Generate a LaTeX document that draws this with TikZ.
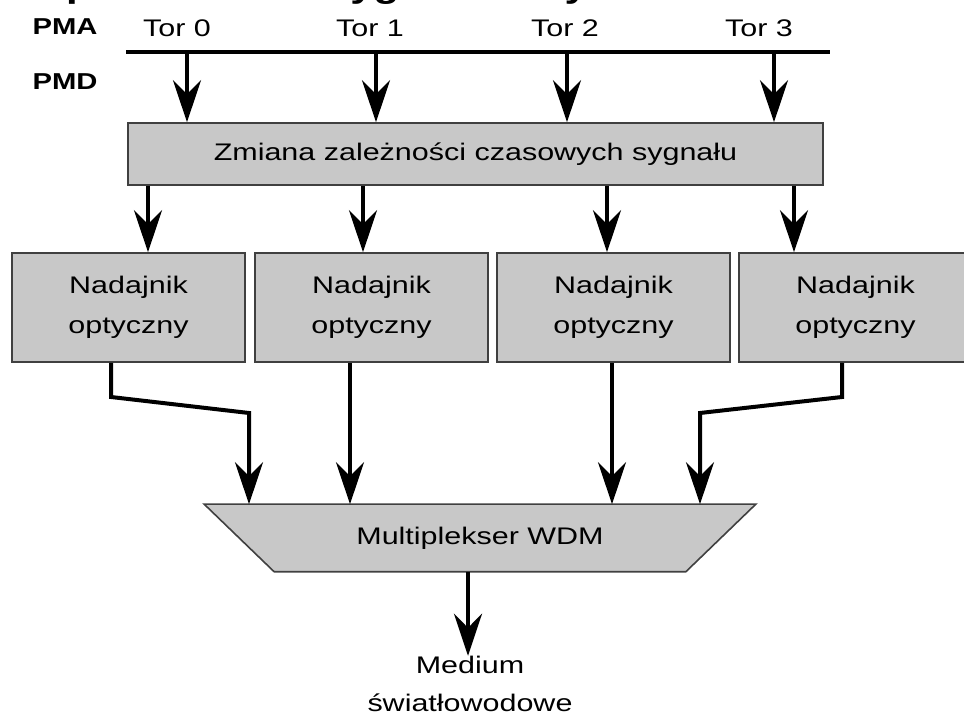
\documentclass[tikz,border=0pt]{standalone}
\usepackage{fontspec}
\setmainfont{Liberation Sans}[FakeStretch=1.27]
\usepackage{tikz}
\usetikzlibrary{shapes,arrows,arrows.meta,backgrounds,positioning,fit}
\definecolor{boxgray}{RGB}{200,200,200}

\begin{document}
\begin{tikzpicture}[x=0.5pt,y=-0.5pt]
			\tikzstyle{Box}		= [rectangle, draw=black!75, line width=0.8pt, fill=boxgray, inner sep=0pt, align=center, font=\fontsize{12}{20}\selectfont]
			\tikzstyle{Tx}		= [Box, minimum width=116.5pt, minimum height=54.5pt]
			\tikzstyle{Lane}	= [inner sep=0pt, font=\fontsize{12}{14}\selectfont]
			\tikzstyle{Layer}	= [inner sep=0pt, font=\fontsize{11.5}{13}\selectfont\bfseries]
			\tikzstyle{Wire}	= [line width=2pt, black]
			\tikzstyle{Arrow}	= [Wire, -{Stealth[length=21pt, width=14pt, inset=7pt]}]

			\useasboundingbox (0,0) rectangle (964,715);

			\node (title) at (-32,-2) [anchor=base west, inner sep=0pt, font=\fontsize{16.5}{18}\selectfont\bfseries] {Multipleksowanie sygnału w systemie 10GBASE-LX4};

			\node (pma) at (65,27) [Layer] {PMA};
			\node (pmd) at (65,82) [Layer] {PMD};
			\node (t0) at (177,28) [Lane] {Tor 0};
			\node (t1) at (370,28) [Lane] {Tor 1};
			\node (t2) at (565,28) [Lane] {Tor 2};
			\node (t3) at (759,28) [Lane] {Tor 3};

			\coordinate (busL) at (126,52);
			\coordinate (busR) at (830,52);
			\coordinate (b0) at (187,52);
			\coordinate (b1) at (376,52);
			\coordinate (b2) at (567,52);
			\coordinate (b3) at (774,52);

			\node (zm) at (475.5,154) [Box, minimum width=347.5pt, minimum height=31pt] {Zmiana zależności czasowych sygnału};

			\node (n0) at (128.5,307.5) [Tx] {Nadajnik\\optyczny};
			\node (n1) at (371.5,307.5) [Tx] {Nadajnik\\optyczny};
			\node (n2) at (613.5,307.5) [Tx] {Nadajnik\\optyczny};
			\node (n3) at (855.5,307.5) [Tx] {Nadajnik\\optyczny};

			% multiplekser: tekst w wezle, trapez pod spodem
			\node (mux) at (480,538) [Box, draw=none, fill=none, minimum width=275pt, minimum height=33pt] {Multiplekser WDM};
			\begin{scope}[on background layer]
				\draw [Box] (mux.north west) -- (mux.north east) -- ([xshift=-35pt]mux.south east) -- ([xshift=35pt]mux.south west) -- cycle;
			\end{scope}

			\node (med) at (470,684) [Lane, align=center, font=\fontsize{12}{19}\selectfont] {Medium\\światłowodowe};

			\draw [Wire] (busL) to (busR);
			\draw [Arrow] (b0) to (b0 |- zm.north);
			\draw [Arrow] (b1) to (b1 |- zm.north);
			\draw [Arrow] (b2) to (b2 |- zm.north);
			\draw [Arrow] (b3) to (b3 |- zm.north);

			\draw [Arrow] (zm.south -| 148,0) to (n0.north -| 148,0);
			\draw [Arrow] (zm.south -| 363,0) to (n1.north -| 363,0);
			\draw [Arrow] (zm.south -| 607,0) to (n2.north -| 607,0);
			\draw [Arrow] (zm.south -| 794,0) to (n3.north -| 794,0);

			\draw [Arrow] (n0.south -| 111,0) to (111,397) to (249,413) to (mux.north -| 249,0);
			\draw [Arrow] (n1.south -| 350,0) to (mux.north -| 350,0);
			\draw [Arrow] (n2.south -| 612,0) to (mux.north -| 612,0);
			\draw [Arrow] (n3.south -| 842,0) to (842,397) to (700,413) to (mux.north -| 700,0);

			\draw [Arrow] (mux.south -| 468,0) to (med.north -| 468,0);
		\end{tikzpicture}
\end{document}
